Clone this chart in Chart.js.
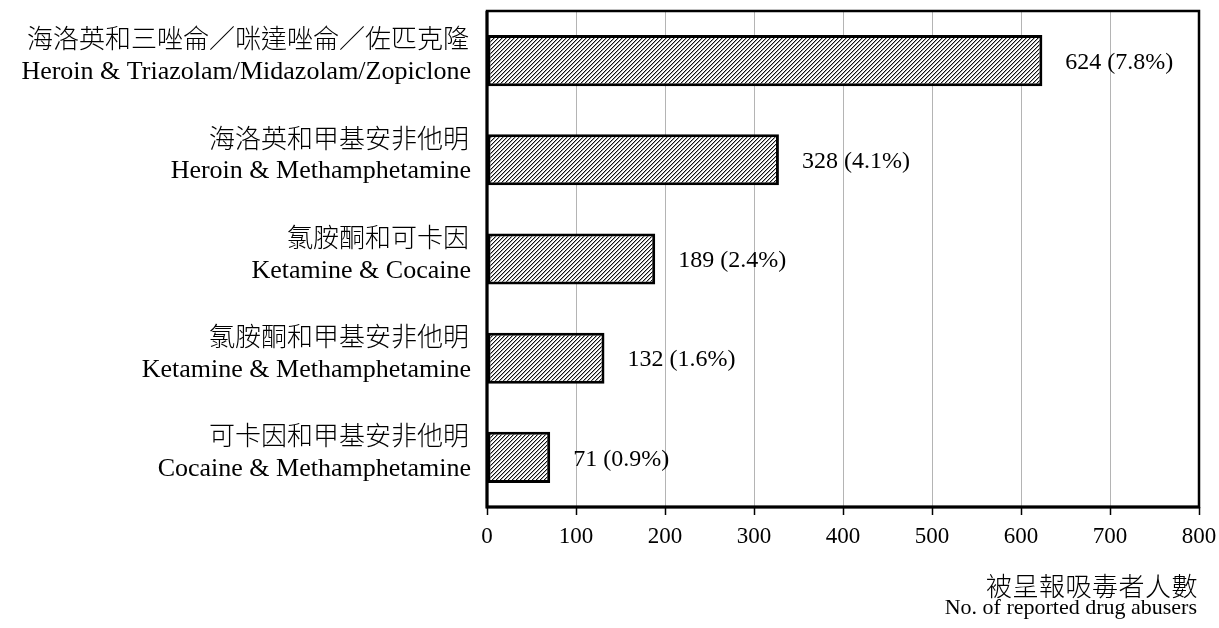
<!DOCTYPE html>
<html>
<head>
<meta charset="utf-8">
<script src="https://cdn.jsdelivr.net/npm/chart.js@4.4.1/dist/chart.umd.min.js"></script>
<style>
  html, body { margin: 0; padding: 0; background: #ffffff; }
  #wrap { width: 1219px; height: 628px; position: relative; }
</style>
</head>
<body>
<div id="wrap"><canvas id="chart" width="1219" height="628"></canvas></div>
<script>
// Drug combinations (Chinese / English names)
const categoriesZh = [
  '海洛英和三唑侖／咪達唑侖／佐匹克隆',
  '海洛英和甲基安非他明',
  '氯胺酮和可卡因',
  '氯胺酮和甲基安非他明',
  '可卡因和甲基安非他明'
];
const categoriesEn = [
  'Heroin & Triazolam/Midazolam/Zopiclone',
  'Heroin & Methamphetamine',
  'Ketamine & Cocaine',
  'Ketamine & Methamphetamine',
  'Cocaine & Methamphetamine'
];
// Number of reported drug abusers and share of total
const abusers = [624, 328, 189, 132, 71];
const shares = ['7.8%', '4.1%', '2.4%', '1.6%', '0.9%'];
// Horizontal axis ticks
const xTicks = [0, 100, 200, 300, 400, 500, 600, 700, 800];
const axisTitleZh = '被呈報吸毒者人數';
const axisTitleEn = 'No. of reported drug abusers';

const LATIN = '"Liberation Serif", "Times New Roman", serif';
const CJK = '"Noto Sans CJK TC", "Noto Sans CJK SC", sans-serif';

// Diagonal hatch fill for the bars
function makeHatch() {
  const c = document.createElement('canvas');
  c.width = 4; c.height = 4;
  const g = c.getContext('2d');
  g.fillStyle = '#ffffff';
  g.fillRect(0, 0, 4, 4);
  for (let y = 0; y < 4; y++) {
    g.fillStyle = '#111111';
    g.fillRect(3 - y, y, 1, 1);
    g.fillStyle = '#a8a8a8';
    g.fillRect((4 - y) % 4, y, 1, 1);
  }
  return document.getElementById('chart').getContext('2d').createPattern(c, 'repeat');
}

function setSpacing(ctx, px) {
  if ('letterSpacing' in ctx) ctx.letterSpacing = px + 'px';
}

// Frame around the plot area
const framePlugin = {
  id: 'frame',
  afterDatasetsDraw(chart) {
    const { ctx, chartArea: a } = chart;
    ctx.save();
    ctx.strokeStyle = '#000';
    ctx.lineWidth = 2.5;
    ctx.strokeRect(a.left, a.top, a.right - a.left, a.bottom - a.top);
    ctx.lineWidth = 3;
    ctx.beginPath();
    ctx.moveTo(a.left, a.top);
    ctx.lineTo(a.left, a.bottom);
    ctx.lineTo(a.right, a.bottom);
    ctx.stroke();
    ctx.restore();
  }
};

// Value labels beside the bars, two-line category labels and axis title
const labelPlugin = {
  id: 'labels',
  afterDraw(chart) {
    const { ctx } = chart;
    const meta = chart.getDatasetMeta(0);
    const yScale = chart.scales.y;
    ctx.save();
    ctx.fillStyle = '#000';
    ctx.font = '24px ' + LATIN;
    ctx.textAlign = 'left';
    ctx.textBaseline = 'middle';
    meta.data.forEach((bar, i) => {
      ctx.fillText(abusers[i] + ' (' + shares[i] + ')', bar.x + 23, bar.y + 2);
    });

    ctx.textAlign = 'right';
    categoriesZh.forEach((zh, i) => {
      const y = yScale.getPixelForValue(i);
      ctx.font = '300 26px ' + CJK;
      setSpacing(ctx, 0);
      ctx.textBaseline = 'middle';
      ctx.fillText(zh, 469, y - 22);
      ctx.font = '26px ' + LATIN;
      ctx.textBaseline = 'alphabetic';
      ctx.fillText(categoriesEn[i], 471, y + 18.5);
    });

    // axis title, right-aligned under the axis
    ctx.font = '300 26px ' + CJK;
    setSpacing(ctx, 0.5);
    ctx.textBaseline = 'middle';
    ctx.fillText(axisTitleZh, 1198, 586);
    ctx.font = '22px ' + LATIN;
    setSpacing(ctx, 0);
    ctx.textBaseline = 'alphabetic';
    ctx.fillText(axisTitleEn, 1197, 614);
    ctx.restore();
  }
};

new Chart(document.getElementById('chart'), {
  type: 'bar',
  data: {
    labels: categoriesEn,
    datasets: [{
      data: abusers,
      backgroundColor: makeHatch(),
      borderColor: '#000',
      borderWidth: 3,
      borderSkipped: false,
      categoryPercentage: 1,
      barPercentage: 0.515
    }]
  },
  options: {
    indexAxis: 'y',
    responsive: false,
    animation: false,
    devicePixelRatio: 1,
    layout: { padding: { top: 11, right: 20, left: 0, bottom: 0 } },
    plugins: { legend: { display: false }, tooltip: { enabled: false } },
    scales: {
      x: {
        min: xTicks[0],
        max: xTicks[xTicks.length - 1],
        afterBuildTicks(scale) { scale.ticks = xTicks.map(v => ({ value: v })); },
        afterFit(scale) {
          scale.height = 121;
          scale.paddingLeft = 0;
          scale.paddingRight = 0;
        },
        ticks: {
          color: '#000',
          font: { family: LATIN, size: 23 },
          padding: 8,
          maxRotation: 0,
          autoSkip: false
        },
        grid: {
          color: '#b4b4b4',
          lineWidth: 1,
          borderDash: [2, 2],
          tickColor: '#000',
          tickBorderDash: [],
          tickWidth: 1.5,
          tickLength: 8
        },
        border: { display: false }
      },
      y: {
        afterFit(scale) { scale.width = 487; },
        ticks: { display: false },
        grid: { display: false, drawTicks: false },
        border: { display: false }
      }
    }
  },
  plugins: [framePlugin, labelPlugin]
});
</script>
</body>
</html>
